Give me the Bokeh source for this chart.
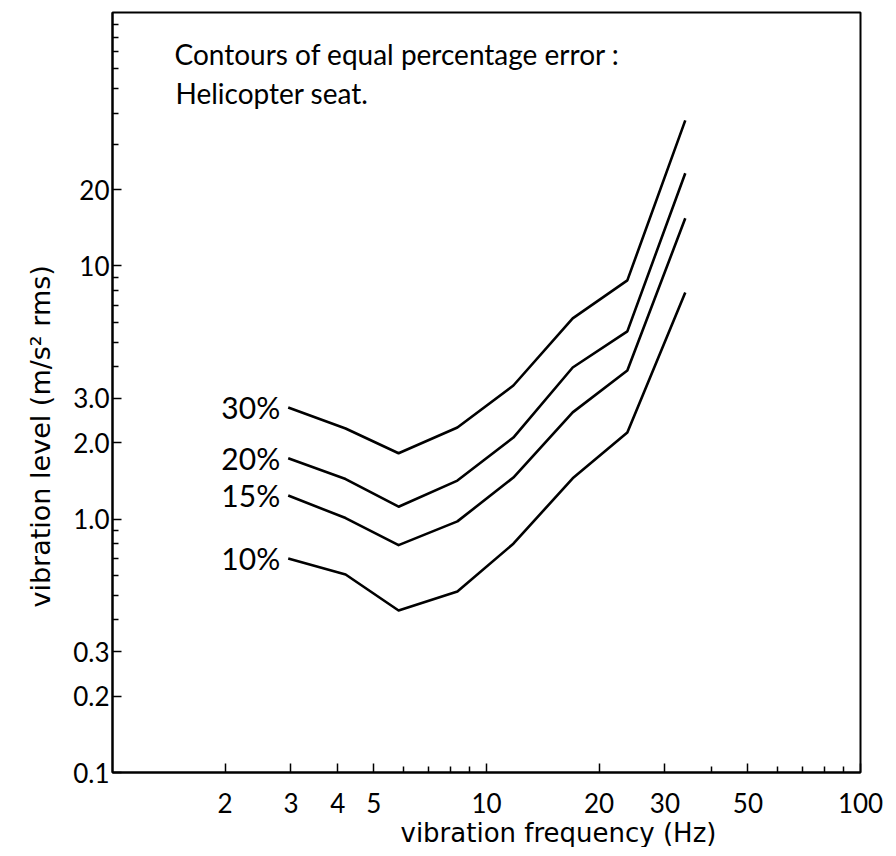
import numpy as np
from bokeh.plotting import figure
from bokeh.models import ColumnDataSource, FixedTicker, Label, Range1d, Title
from bokeh.core.properties import value
from bokeh.embed import file_html
from bokeh.resources import INLINE

# ---- data ----
freq = [2.95, 4.2, 5.82, 8.36, 11.8, 17.0, 23.8, 34.0]
err_30 = [2.76, 2.28, 1.82, 2.30, 3.37, 6.20, 8.76, 37.5]
err_20 = [1.74, 1.44, 1.12, 1.42, 2.10, 3.97, 5.51, 23.2]
err_15 = [1.24, 1.01, 0.79, 0.98, 1.46, 2.64, 3.86, 15.4]
err_10 = [0.70, 0.605, 0.436, 0.518, 0.80, 1.45, 2.20, 7.85]
curve_labels = ["30%", "20%", "15%", "10%"]

x_major = [2, 3, 4, 5, 10, 20, 30, 50, 100]
x_minor = [6, 7, 8, 9, 40, 60, 70, 80, 90]
x_labels = ["2", "3", "4", "5", "10", "20", "30", "50", "100"]
y_major = [0.1, 0.2, 0.3, 1, 2, 3, 10, 20]
y_minor = [0.4, 0.5, 0.6, 0.7, 0.8, 0.9, 4, 5, 6, 7, 8, 9, 30, 40, 50, 60, 70, 80, 90]
y_labels = ["0.1", "0.2", "0.3", "1.0", "2.0", "3.0", "10", "20"]

title_lines = ["Contours of equal percentage error :", "Helicopter seat."]
x_title = "vibration frequency (Hz)"
y_title = "vibration level (m/s\u00b2 rms)"

FONT = "Lato"
AXFONT = "DejaVu Sans"

p = figure(frame_width=748, frame_height=760, x_axis_type="log", y_axis_type="log",
           x_range=Range1d(1, 100), y_range=Range1d(0.1, 100),
           output_backend="svg", toolbar_location=None,
           min_border_left=112, min_border_right=30,
           min_border_top=12, min_border_bottom=0)

p.background_fill_color = "white"
p.border_fill_color = "white"
p.outline_line_color = "black"
p.outline_line_width = 2
p.xgrid.visible = False
p.ygrid.visible = False

for ax in (p.xaxis[0], p.yaxis[0]):
    ax.axis_line_width = 2
    ax.axis_line_color = "black"
    ax.major_tick_in = 9
    ax.major_tick_out = 0
    ax.minor_tick_in = 6
    ax.minor_tick_out = 0
    ax.major_tick_line_width = 1.5
    ax.minor_tick_line_width = 1.5
    ax.major_label_text_font = FONT
    ax.major_label_text_font_size = "26px"
    ax.major_label_text_color = "black"

p.xaxis.ticker = FixedTicker(ticks=x_major, minor_ticks=x_minor)
p.yaxis.ticker = FixedTicker(ticks=y_major, minor_ticks=y_minor)
p.xaxis.major_label_overrides = dict(zip(x_major, x_labels))
p.yaxis.major_label_overrides = dict(zip(y_major, y_labels))
p.xaxis.major_label_standoff = 20
p.yaxis.major_label_standoff = 3

series = [err_30, err_20, err_15, err_10]
for ys in series:
    p.line(freq, ys, line_color="black", line_width=2.6, line_join="round")

lab_src = ColumnDataSource(dict(x=[freq[0]] * len(series),
                                y=[s[0] for s in series],
                                text=curve_labels))
p.text(x="x", y="y", text="text", source=lab_src, text_align="right",
       text_baseline="middle", x_offset=-8, text_font=value(FONT),
       text_font_size="30px", text_color="black")

p.add_layout(Label(x=62, y=719, x_units="screen", y_units="screen",
                   text=title_lines[0], text_font=FONT, text_font_size="28px",
                   text_baseline="alphabetic", text_color="black"))
p.add_layout(Label(x=63, y=680, x_units="screen", y_units="screen",
                   text=title_lines[1], text_font=FONT, text_font_size="28px",
                   text_baseline="alphabetic", text_color="black"))

p.add_layout(Title(text=x_title, align="left", offset=288, standoff=0,
                   text_font=AXFONT, text_font_size="26px",
                   text_font_style="normal", text_color="black"), "below")
p.add_layout(Title(text=y_title, align="left", offset=165, standoff=30,
                   text_font=AXFONT, text_font_size="27px",
                   text_font_style="normal", text_color="black"), "left")

open("out.html", "w").write(file_html(p, INLINE))
